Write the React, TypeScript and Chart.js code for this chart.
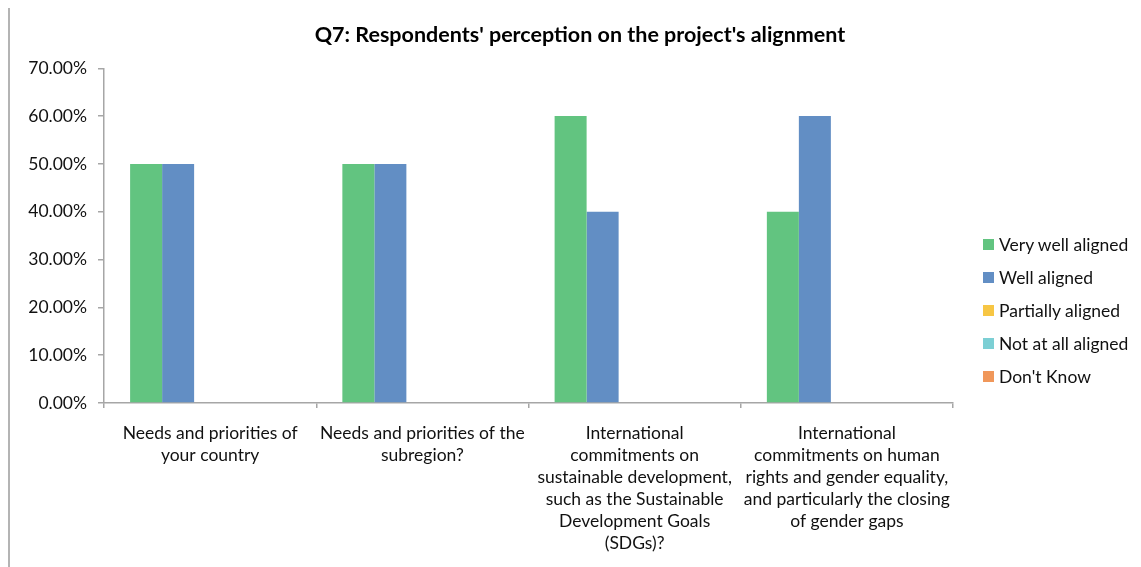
import React, { useEffect, useRef } from "react";
import { Chart, registerables } from "chart.js";

Chart.register(...registerables);

const categories: string[][] = [
  ["Needs and priorities of", "your country"],
  ["Needs and priorities of the", "subregion?"],
  ["International", "commitments on", "sustainable development,", "such as the Sustainable", "Development Goals", "(SDGs)?"],
  ["International", "commitments on human", "rights and gender equality,", "and particularly the closing", "of gender gaps"],
];

const seriesNames = ["Very well aligned", "Well aligned", "Partially aligned", "Not at all aligned", "Don't Know"];
const seriesColors = ["#62c480", "#628ec4", "#f7c644", "#7ccfd4", "#f0975a"];

const veryWellAligned = [50, 50, 60, 40];
const wellAligned = [50, 50, 40, 60];
const partiallyAligned = [0, 0, 0, 0];
const notAtAllAligned = [0, 0, 0, 0];
const dontKnow = [0, 0, 0, 0];

const seriesValues = [veryWellAligned, wellAligned, partiallyAligned, notAtAllAligned, dontKnow];

const yTicks = [0, 10, 20, 30, 40, 50, 60, 70];

const titleText = "Q7: Respondents' perception on the project's alignment";

const FONT = "Lato, 'Open Sans', sans-serif";

export default function App() {
  const ref = useRef<HTMLCanvasElement | null>(null);

  useEffect(() => {
    document.documentElement.style.overflow = "hidden";
    const canvas = ref.current;
    if (!canvas) return;
    const chart = new Chart(canvas, {
      type: "bar",
      data: {
        labels: categories,
        datasets: seriesNames.map((name, i) => ({
          label: name,
          data: seriesValues[i],
          backgroundColor: seriesColors[i],
          borderWidth: 0,
          categoryPercentage: 0.754,
          barPercentage: 1,
        })),
      },
      options: {
        responsive: false,
        animation: false,
        layout: { padding: 0 },
        plugins: {
          legend: { display: false },
          tooltip: { enabled: false },
          title: {
            display: true,
            text: titleText,
            color: "#000",
            font: { family: FONT, size: 21.5, weight: "bold", lineHeight: 1.2 },
            padding: { top: 15.1, bottom: 20.4 },
          },
        },
        scales: {
          x: {
            grid: {
              display: true,
              drawOnChartArea: false,
              drawTicks: true,
              tickLength: 5,
              color: "#a6a6a6",
              lineWidth: 1.5,
              offset: true,
            },
            border: { display: true, color: "#a6a6a6", width: 1.5 },
            ticks: {
              color: "#111",
              font: { family: FONT, size: 17.5, lineHeight: 22 / 17.5 },
              padding: 14,
              maxRotation: 0,
              autoSkip: false,
            },
            afterFit: (scale: any) => {
              scale.height = 164;
            },
          },
          y: {
            min: 0,
            max: 70,
            afterBuildTicks: (scale: any) => {
              scale.ticks = yTicks.map((v) => ({ value: v }));
            },
            grid: {
              display: true,
              drawOnChartArea: false,
              drawTicks: true,
              tickLength: 6,
              color: "#a6a6a6",
              lineWidth: 1.5,
            },
            border: { display: true, color: "#a6a6a6", width: 1.5 },
            ticks: {
              color: "#111",
              font: { family: FONT, size: 17.5 },
              padding: 11,
              callback: (v: any) => Number(v).toFixed(2) + "%",
            },
            afterFit: (scale: any) => {
              scale.width = 94;
            },
          },
          legendSpace: {
            type: "linear",
            position: "right",
            min: 0,
            max: 70,
            grid: { display: false, drawTicks: false },
            border: { display: false },
            ticks: { display: false },
            afterFit: (scale: any) => {
              scale.width = 197;
            },
          },
        },
      } as any,
    });
    return () => chart.destroy();
  }, []);

  return (
    <div
      style={{
        position: "relative",
        marginTop: -3,
        width: 1125,
        height: 560,
        overflow: "hidden",
        borderTop: "2px solid #cacaca",
        borderLeft: "2px solid #b4b4b4",
        background: "#fff",
      }}
    >
      <canvas ref={ref} width={1140} height={560} style={{ display: "block" }} />
      <div
        style={{
          position: "absolute",
          left: 973,
          top: 221,
          fontFamily: FONT,
          fontSize: 17.5,
          color: "#111",
        }}
      >
        {seriesNames.map((name, i) => (
          <div key={name} style={{ height: 33, display: "flex", alignItems: "center", whiteSpace: "nowrap" }}>
            <span
              style={{
                display: "inline-block",
                width: 11,
                height: 11,
                background: seriesColors[i],
                marginRight: 5,
              }}
            />
            <span>{name}</span>
          </div>
        ))}
      </div>
    </div>
  );
}
